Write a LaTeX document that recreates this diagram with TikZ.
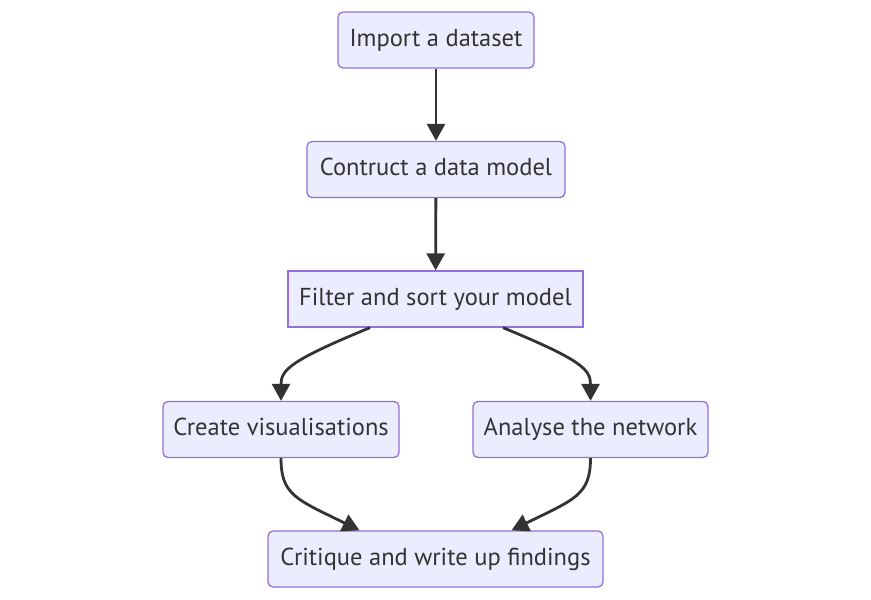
\documentclass[tikz,border=0pt]{standalone}
\usepackage{fontspec}
\setmainfont{PT Sans}
\usepackage{xcolor}
\usetikzlibrary{arrows.meta}
\definecolor{boxfill}{HTML}{ECECFF}
\definecolor{boxline}{HTML}{9370DB}
\definecolor{ink}{HTML}{333333}
\tikzset{
    global scale/.style={scale=#1,every node/.append style={scale=#1}},
    BX1/.style ={rectangle,rounded corners=5pt,minimum height=56pt,text height=17pt,text depth=5pt,draw=boxline,line width=1.3pt,fill=boxfill,text=ink,font=\fontsize{24.5}{28}\selectfont},
    BX2/.style ={BX1,rounded corners=0pt},
    AR/.style ={draw=ink,line width=2.8pt,-{Triangle[width=18pt,length=17pt]}}
}
\begin{document}
\begin{tikzpicture}[x=1pt,y=-1pt]
            \useasboundingbox (0,0) rectangle (871,600);
            \node[BX1,minimum width=196pt] (imp) at (436,40) {Import a dataset};
            \node[BX1,minimum width=258pt] (con) at (436,169.5) {Contruct a data model};
            \node[BX2,minimum width=295pt] (fil) at (435.5,299) {Filter and sort your model};
            \node[BX1,minimum width=236pt] (cre) at (281,429.5) {Create visualisations};
            \node[BX1,minimum width=235pt] (ana) at (590.5,429.5) {Analyse the network};
            \node[BX1,minimum width=335pt] (cri) at (435.5,559) {Critique and write up findings};
            \draw[AR] (imp) -- (con);
            \draw[AR] (con) -- (fil);
            \draw[AR] ([xshift=-65.5pt]fil.south) .. controls +(-80,33) and +(0,-31) .. (cre.north);
            \draw[AR] ([xshift=67.5pt]fil.south) .. controls +(80,33) and +(0,-31) .. (ana.north);
            \draw[AR] (cre.south) .. controls +(0,37) and +(-63,-31) .. ([xshift=-76pt]cri.north);
            \draw[AR] (ana.south) .. controls +(0,37) and +(63,-31) .. ([xshift=76pt]cri.north);
\end{tikzpicture}
\end{document}
